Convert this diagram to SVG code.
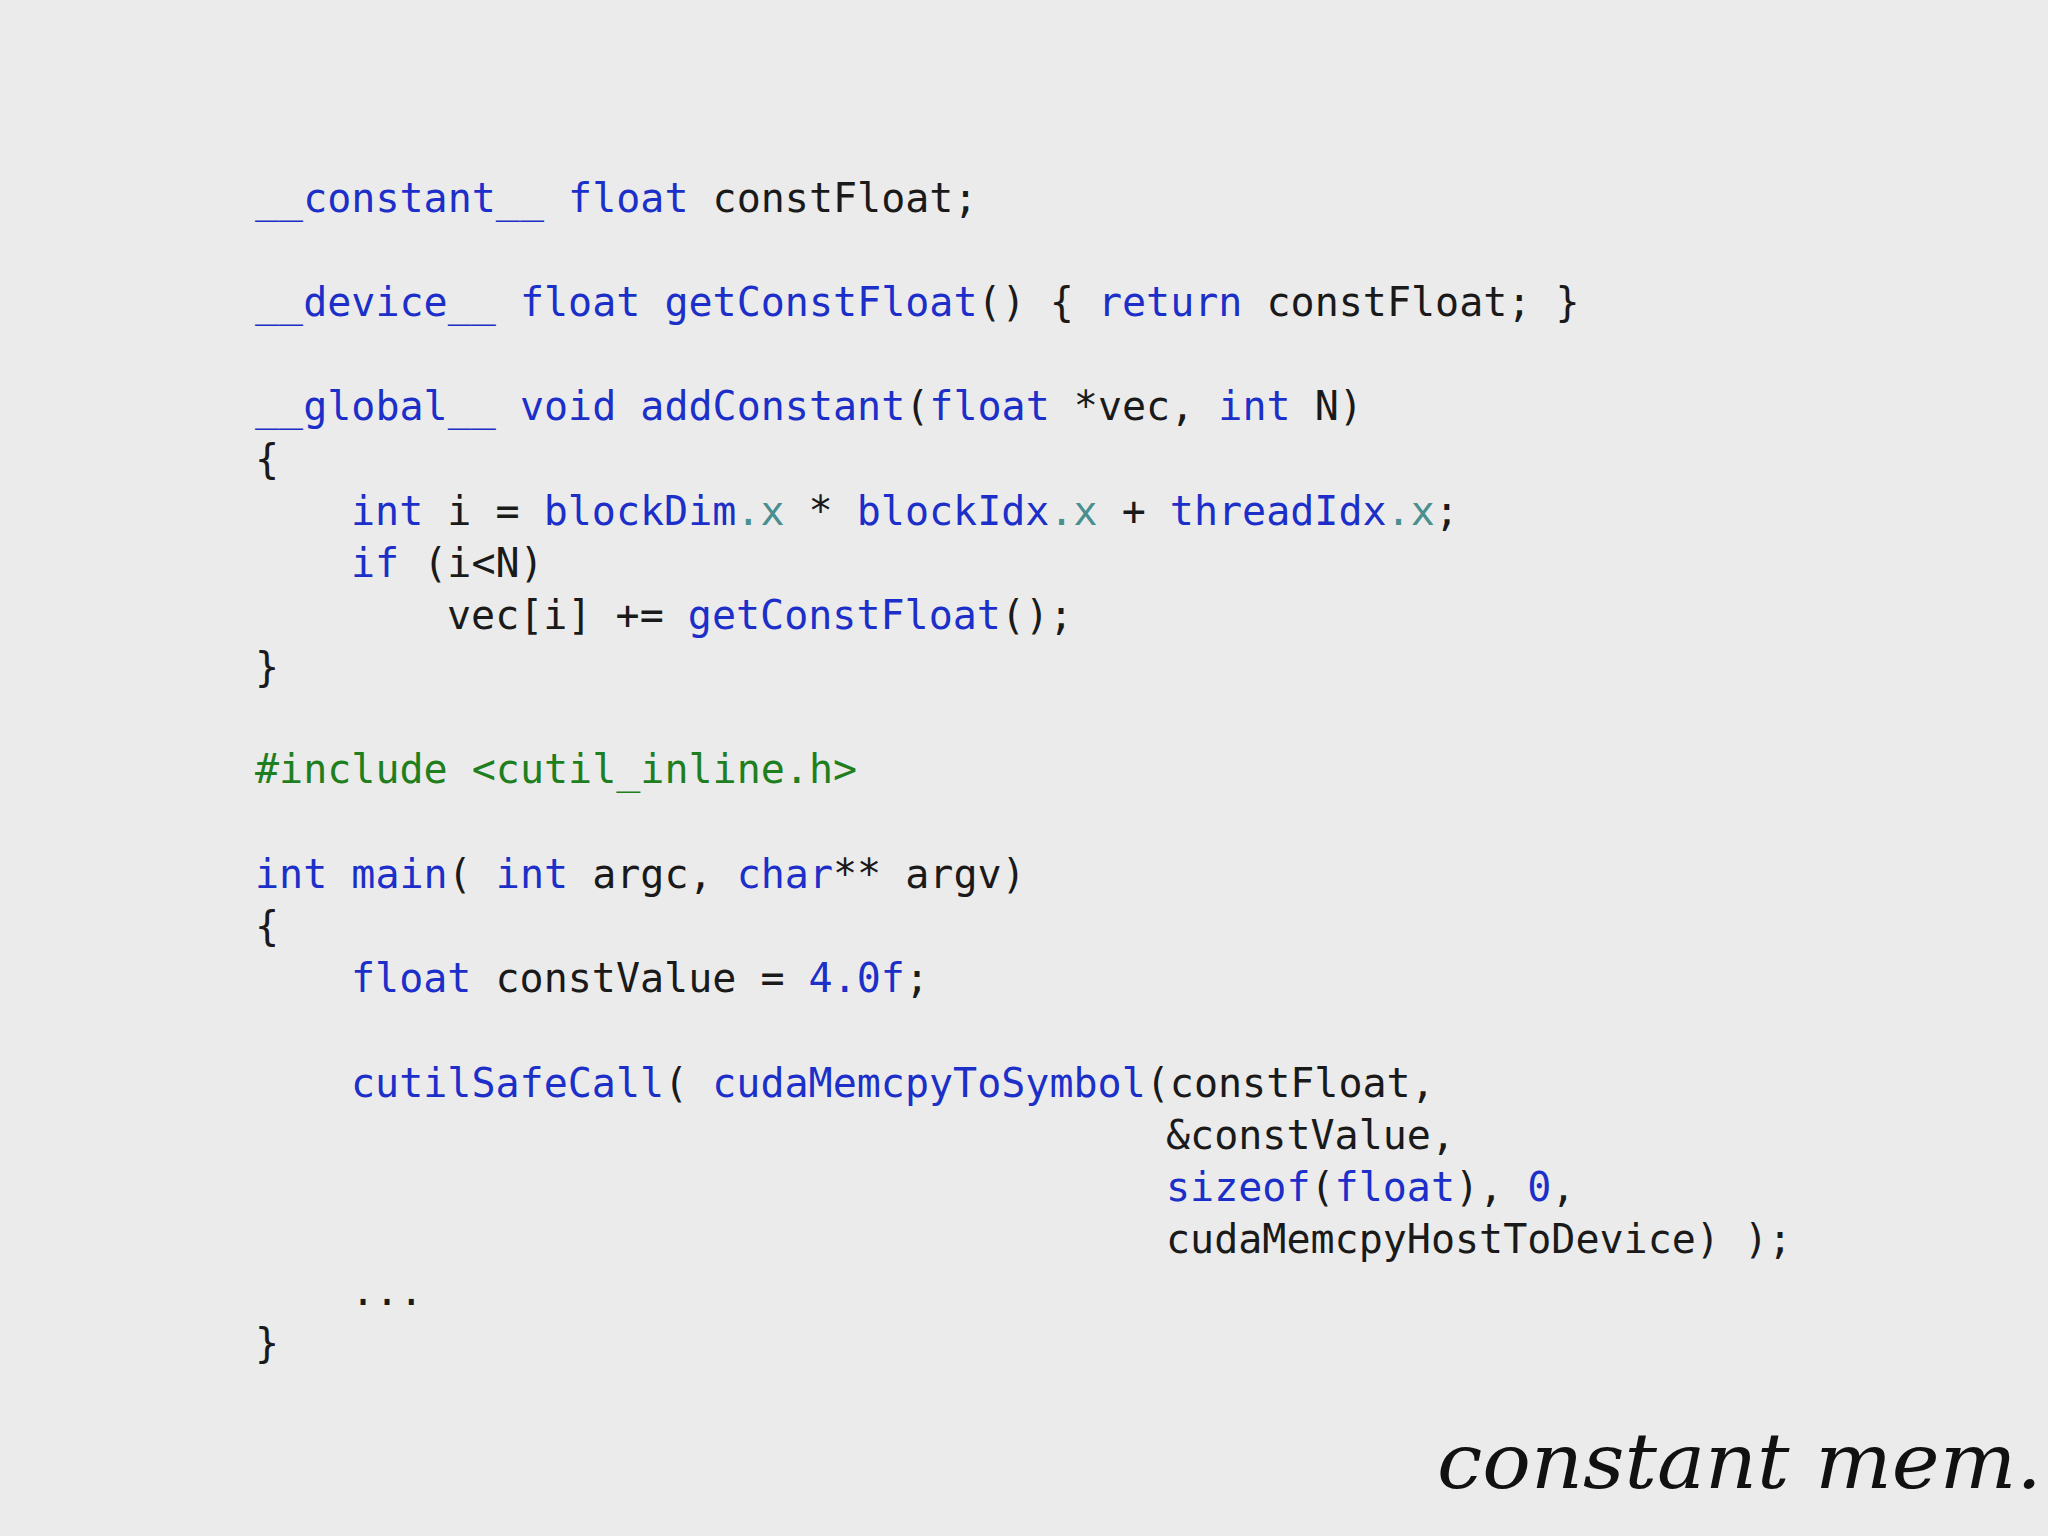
<svg xmlns="http://www.w3.org/2000/svg" width="2048" height="1536" viewBox="0 0 2048 1536">
<style>
text{font-family:"DejaVu Sans Mono","Liberation Mono",monospace;font-size:40px;fill:#1a1a1a;white-space:pre}
.k{fill:#1c2fc8}.g{fill:#1f7f1f}.m{fill:#4a8f8f}
.h{font-family:"DejaVu Serif","Liberation Serif",serif;font-style:italic;font-size:76px;fill:#111}
</style>
<rect width="2048" height="1536" fill="#ebebeb"/>
<g id="code" xml:space="preserve">
<text x="255" y="212"><tspan class="k">__constant__ float</tspan> constFloat;</text>
<text x="255" y="316"><tspan class="k">__device__ float getConstFloat</tspan>() { <tspan class="k">return</tspan> constFloat; }</text>
<text x="255" y="420"><tspan class="k">__global__ void addConstant</tspan>(<tspan class="k">float</tspan> *vec, <tspan class="k">int</tspan> N)</text>
<text x="255" y="473">{</text>
<text x="351" y="525"><tspan class="k">int</tspan> i = <tspan class="k">blockDim</tspan><tspan class="m">.x</tspan> * <tspan class="k">blockIdx</tspan><tspan class="m">.x</tspan> + <tspan class="k">threadIdx</tspan><tspan class="m">.x</tspan>;</text>
<text x="351" y="577"><tspan class="k">if</tspan> (i&lt;N)</text>
<text x="447" y="629">vec[i] += <tspan class="k">getConstFloat</tspan>();</text>
<text x="255" y="681">}</text>
<text x="255" y="783" class="g">#include &lt;cutil_inline.h&gt;</text>
<text x="255" y="888"><tspan class="k">int main</tspan>( <tspan class="k">int</tspan> argc, <tspan class="k">char</tspan>** argv)</text>
<text x="255" y="940">{</text>
<text x="351" y="992"><tspan class="k">float</tspan> constValue = <tspan class="k">4.0f</tspan>;</text>
<text x="351" y="1097"><tspan class="k">cutilSafeCall</tspan>( <tspan class="k">cudaMemcpyToSymbol</tspan>(constFloat,</text>
<text x="1166" y="1149">&amp;constValue,</text>
<text x="1166" y="1201"><tspan class="k">sizeof</tspan>(<tspan class="k">float</tspan>), <tspan class="k">0</tspan>,</text>
<text x="1166" y="1253">cudaMemcpyHostToDevice) );</text>
<text x="351" y="1305">...</text>
<text x="255" y="1357">}</text>
</g>
<g id="title"><text class="h" x="1437" y="1488" textLength="605" lengthAdjust="spacingAndGlyphs">constant mem.</text></g>
</svg>
